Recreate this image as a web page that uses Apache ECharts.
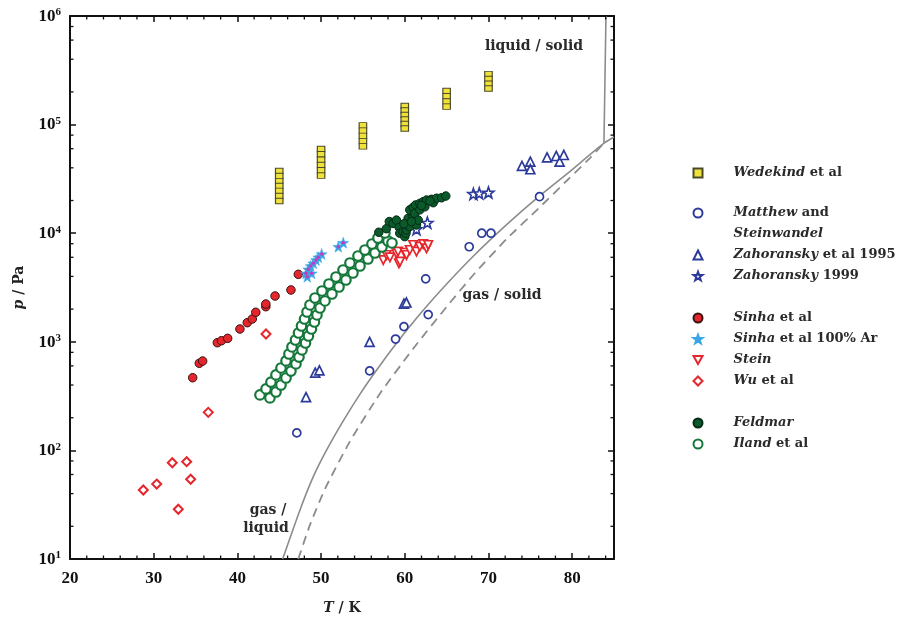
<!DOCTYPE html>
<html><head><meta charset="utf-8">
<script src="https://cdn.jsdelivr.net/npm/echarts@6/dist/echarts.min.js"></script>
<style>html,body{margin:0;padding:0;background:#fff}#c{width:898px;height:622px}</style>
</head><body><div id="c"></div>
<script>
// ---------- data (T in K, p in Pa) ----------
const wedekind = [
  [45,37400],[45,33600],[45,30200],[45,27200],[45,24500],[45,22000],[45,19800],
  [50,59600],[50,53300],[50,47500],[50,42500],[50,37950],[50,33850],
  [55,98500],[55,88100],[55,78700],[55,70340],[55,63000],
  [60,148400],[60,134800],[60,122600],[60,111400],[60,101300],[60,92100],
  [65,203900],[65,182600],[65,163200],[65,146200],
  [70,291200],[70,263000],[70,237500],[70,215000]
];
const matthew = [[47.1,145],[55.8,540],[58.9,1060],[59.9,1380],[62.5,3800],[62.8,1780],[67.7,7500],[69.2,10000],[70.3,10000],[76.1,21700]];
const zahoransky1995 = [[48.2,310],[49.3,520],[49.8,545],[55.8,1000],[59.9,2250],[60.2,2300],[74.0,41600],[75.0,45600],[75.0,38800],[77.0,50000],[78.1,51400],[78.5,45600],[79.0,52500]];
const zahoransky1999 = [[61.4,10900],[62.7,12500],[68.2,23000],[68.9,23300],[70.0,23700]];
const sinha = [[34.66,467],[35.45,634],[35.85,665],[37.6,981],[38.1,1023],[38.84,1076],[40.3,1312],[41.18,1500],[41.78,1622],[42.2,1870],[43.4,2105],[43.4,2228],[44.5,2640],[46.4,3000],[47.28,4180]];
const sinhaAr = [[48.2,4270],[48.35,3980],[48.47,4650],[48.75,4990],[48.87,4270],[49.07,5280],[49.4,5660],[49.67,6000],[50.07,6430],[52.06,7510],[52.65,8180]];
const stein = [[57.43,5660],[57.83,6300],[58.23,6000],[59.0,6530],[59.2,6760],[59.3,5280],[59.43,5470],[60.0,6610],[60.2,6300],[60.6,7000],[61.0,7790],[61.4,6760],[61.8,7510],[62.2,7940],[62.6,7260],[62.8,7790]];
const wu = [[28.76,43.2],[30.36,49],[32.22,77],[32.94,28.7],[33.94,78.7],[34.42,54.2],[36.52,224],[43.42,1180]];
const feldmar = [[56.9,10200],[57.8,11000],[58.15,12800],[58.6,12300],[59.0,13200],[59.34,11300],[59.4,10000],[59.8,10300],[60.0,9300],[60.14,10000],[60.2,10700],[60.3,11900],[60.4,13700],[60.6,11500],[60.6,16400],[61.0,14200],[61.0,17300],[61.2,15200],[61.3,18200],[61.4,11900],[61.6,13200],[61.8,16400],[61.8,18800],[62.2,19500],[62.4,17500],[62.6,20200],[63.2,20500],[63.4,19100],[63.8,21000],[64.4,21200],[64.9,22000],[59.9,12200],[60.8,12800],[62.0,18000],[63.0,19800]];
const iland = [
  [42.70,324],[43.89,304],[43.42,368],[44.61,345],[44.01,426],[45.21,400],[44.61,495],[45.81,464],
  [45.21,574],[46.40,538],[45.81,666],[47.00,625],[46.16,772],[47.36,724],[46.52,896],[47.72,841],
  [46.94,1039],[48.14,975],[47.30,1205],[48.49,1131],[47.66,1398],[48.85,1312],[48.02,1621],[49.21,1522],
  [48.32,1881],[49.51,1766],[48.67,2183],[49.87,2048],[49.27,2531],[50.47,2376],[50.11,2937],[51.30,2755],
  [50.94,3406],[52.14,3196],[51.78,3951],[52.97,3708],[52.62,4583],[53.81,4300],[53.45,5316],[54.65,4989],
  [54.41,6168],[55.60,5786],[55.24,7003],[56.44,6573],[56.08,7957],[57.28,7465],[56.80,9033],[57.99,8477],
  [57.63,10040],[58.47,8128]
];
const gasLiquid = [[45.41,10],[47.48,28.3],[49.07,57.3],[50.67,101],[52.65,187],[54.65,330],[56.64,550],[59.03,975],[61.42,1656],[64.21,2924],[68.18,6140],[72.17,12000],[76.15,22200],[79.38,35200],[83.8,67400],[85,76900]];
const gasSolid = [[47.28,10],[48.67,20.6],[50.47,44.2],[53.45,121],[57.04,334],[61.02,867],[65.01,2104],[68.18,4121],[72.17,8850],[76.15,17420],[79.38,30560],[82.13,49230],[83.8,67400]];
const liquidSolid = [[83.8,67400],[84.04,1000000]];
const xMinorTicks = [22,24,26,28,32,34,36,38,42,44,46,48,52,54,56,58,62,64,66,68,72,74,76,78,82,84];
const yMinorTicks = [20,40,60,80,200,400,600,800,2000,4000,6000,8000,20000,40000,60000,80000,200000,400000,600000,800000];
const legendNames = ['Wedekind et al','Matthew and Steinwandel','Zahoransky et al 1995','Zahoransky 1999','Sinha et al','Sinha et al 100% Ar','Stein','Wu et al','Feldmar','Iland et al'];
const legendLabels = {
  'Wedekind et al':'{i|Wedekind} et al',
  'Matthew and Steinwandel':'{i|Matthew} and\n{i|Steinwandel}',
  'Zahoransky et al 1995':'{i|Zahoransky} et al 1995',
  'Zahoransky 1999':'{i|Zahoransky} 1999',
  'Sinha et al':'{i|Sinha} et al',
  'Sinha et al 100% Ar':'{i|Sinha} et al 100% Ar',
  'Stein':'{i|Stein}',
  'Wu et al':'{i|Wu} et al',
  'Feldmar':'{i|Feldmar}',
  'Iland et al':'{i|Iland} et al'
};
// ---------- layout / style ----------
const FF = '"Liberation Serif", serif';
const FT = '"DejaVu Serif", serif';
const legendCenters = [173,213,255,276,318,339,360,381,423,444];
const BLUE = '#2c3a9a', RED = '#e5262c', DKGREEN = '#0b5a2b', GREEN = '#15783a';
const X0 = 20, X1 = 85, Y0 = 10, Y1 = 1e6;
const STAR = 'path://M0,-10L2.35,-3.24L9.51,-3.09L3.8,1.24L5.88,8.09L0,4L-5.88,8.09L-3.8,1.24L-9.51,-3.09L-2.35,-3.24Z';
const DOWNTRI = 'path://M-5,-4L5,-4L0,5Z';

const chart = echarts.init(document.getElementById('c'));
const axisLineStyle = {color:'#111', width:2};
const baseX = {type:'value', min:X0, max:X1, interval:10, splitLine:{show:false},
  axisLine:{show:true, onZero:false, lineStyle:axisLineStyle},
  axisTick:{show:true, inside:true, length:6, lineStyle:{color:'#111', width:1.5}}};
const baseY = {type:'log', logBase:10, min:Y0, max:Y1, splitLine:{show:false},
  axisLine:{show:true, onZero:false, lineStyle:axisLineStyle},
  axisTick:{show:true, inside:true, length:6, lineStyle:{color:'#111', width:1.5}}};

function scatter(name, data, symbol, size, itemStyle, extra) {
  return Object.assign({type:'scatter', name, data, symbol, symbolSize:size,
    itemStyle:Object.assign({opacity:1}, itemStyle), emphasis:{disabled:true}}, extra||{});
}
const openStyle = (c, w) => ({color:'#fff', borderColor:c, borderWidth:w||1.6});

const legends = legendNames.map((n, i) => {
  const two = n === 'Matthew and Steinwandel';
  return {
    data:[n], orient:'vertical', left:692.5, top: legendCenters[i] - (two ? 31.5 : 10.5),
    padding:0, itemWidth:9, itemHeight:9, selectedMode:false,
    formatter: nm => legendLabels[nm],
    textStyle:{fontFamily:FT, fontWeight:'bold', fontSize:13, color:'#2a2a2a', lineHeight:21,
      padding: two ? [21,0,0,26] : [0,0,0,26],
      rich:{i:{fontFamily:FT, fontWeight:'bold', fontStyle:'italic', fontSize:13, color:'#2a2a2a', lineHeight:21}}}
  };
});

function tickSeries(values, isY) {
  return {
    type:'custom', silent:true, z:20, clip:false,
    encode: isY ? {y:0} : {x:0},
    data: values.map(v => [v]),
    renderItem: (params, api) => {
      const v = api.value(0);
      const st = {stroke:'#111', lineWidth:1.3};
      if (isY) {
        const a = api.coord([X0, v]), b = api.coord([X1, v]);
        return {type:'group', children:[
          {type:'line', shape:{x1:a[0], y1:a[1], x2:a[0]+3.5, y2:a[1]}, style:st},
          {type:'line', shape:{x1:b[0], y1:b[1], x2:b[0]-3.5, y2:b[1]}, style:st}]};
      }
      const a = api.coord([v, Y0]), b = api.coord([v, Y1]);
      return {type:'group', children:[
        {type:'line', shape:{x1:a[0], y1:a[1], x2:a[0], y2:a[1]-3.5}, style:st},
        {type:'line', shape:{x1:b[0], y1:b[1], x2:b[0], y2:b[1]+3.5}, style:st}]};
    }
  };
}

const txt = (t, x, y) => ({type:'text', x, y, z:30, style:{text:t, font:'bold 14px ' + FT, fill:'#2a2a2a', align:'center', verticalAlign:'middle'}});
const nameRich = {fontFamily:FT, fontWeight:'bold', fontSize:14, color:'#222', rich:{i:{fontFamily:FT, fontWeight:'bold', fontStyle:'italic', fontSize:14, color:'#222'}}};

chart.setOption({
  animation:false,
  backgroundColor:'#fff',
  grid:{left:70, right:284, top:16, bottom:63},
  legend: legends,
  xAxis:[
    Object.assign({}, baseX, {position:'bottom', name:'{i|T} / K', nameLocation:'middle', nameGap:42,
      nameTextStyle:nameRich,
      axisLabel:{margin:11, showMaxLabel:false, fontFamily:FF, fontWeight:'bold', fontSize:17, color:'#111'}}),
    Object.assign({}, baseX, {position:'top', axisLabel:{show:false}})
  ],
  yAxis:[
    Object.assign({}, baseY, {position:'left', name:'{i|p} / Pa', nameLocation:'middle', nameGap:44, nameRotate:90,
      nameTextStyle:nameRich,
      axisLabel:{margin:9, color:'#111',
        formatter: v => '{b|10}{s|' + Math.round(Math.log10(v)) + '}',
        rich:{b:{fontFamily:FF, fontWeight:'bold', fontSize:17, color:'#111', lineHeight:18, verticalAlign:'bottom'},
              s:{fontFamily:FF, fontWeight:'bold', fontSize:11, color:'#111', verticalAlign:'top', lineHeight:12}}}}),
    Object.assign({}, baseY, {position:'right', axisLabel:{show:false}})
  ],
  graphic:[
    txt('liquid / solid', 534, 46),
    txt('gas / solid', 502, 295),
    txt('gas /', 268, 510),
    txt('liquid', 266, 528)
  ],
  series:[
    {type:'line', name:'gas/liquid', data:gasLiquid, showSymbol:false, symbol:'none', smooth:0.2, silent:true, z:1,
      lineStyle:{color:'#8c8c8c', width:1.6}},
    {type:'line', name:'gas/solid', data:gasSolid, showSymbol:false, symbol:'none', smooth:0.2, silent:true, z:1,
      lineStyle:{color:'#8c8c8c', width:1.8, type:[9,6]}},
    {type:'line', name:'liquid/solid', data:liquidSolid, showSymbol:false, symbol:'none', silent:true, z:1,
      lineStyle:{color:'#8c8c8c', width:1.6}},
    scatter('Wedekind et al', wedekind, 'rect', [7.5,5.5], {color:'#f0e23a', borderColor:'#4a4a2a', borderWidth:1}),
    scatter('Matthew and Steinwandel', matthew, 'circle', 8, openStyle(BLUE,1.7)),
    scatter('Zahoransky et al 1995', zahoransky1995, 'triangle', 9, openStyle(BLUE,1.7)),
    scatter('Zahoransky 1999', zahoransky1999, STAR, 11, openStyle(BLUE,1.6)),
    scatter('Sinha et al', sinha, 'circle', 8.5, {color:RED, borderColor:'#3a1212', borderWidth:1}),
    scatter('Sinha et al 100% Ar', sinhaAr, STAR, 11, {color:'#3aa6e6', borderColor:'#3aa6e6', borderWidth:0.5}),
    {type:'scatter', name:'Sinha Ar core', data:sinhaAr, symbol:'circle', symbolSize:3.5, itemStyle:{color:'#c23cc0', opacity:1}, silent:true},
    scatter('Stein', stein, DOWNTRI, 8.5, openStyle(RED,1.7)),
    scatter('Wu et al', wu, 'diamond', 9, openStyle(RED,2)),
    scatter('Iland et al', iland, 'circle', 9.5, openStyle(GREEN,2.2)),
    scatter('Feldmar', feldmar, 'circle', 8.5, {color:DKGREEN, borderColor:'#032a14', borderWidth:1}),
    tickSeries(yMinorTicks, true),
    tickSeries(xMinorTicks, false)
  ]
});
</script>
</body></html>
